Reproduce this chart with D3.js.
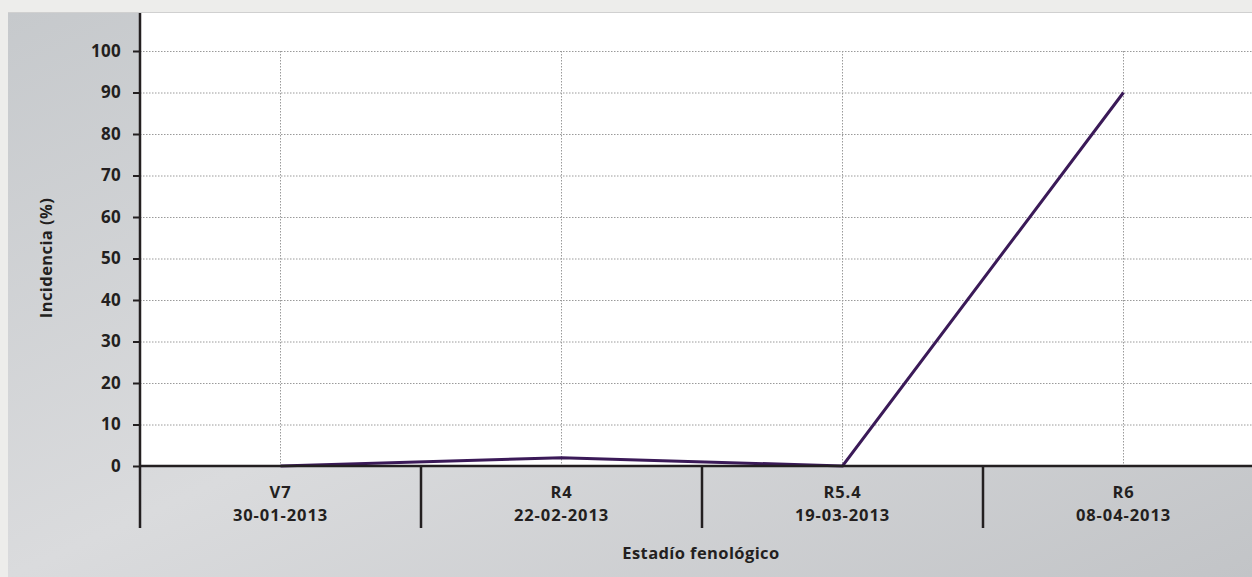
<!DOCTYPE html>
<html><head><meta charset="utf-8">
<script src="https://cdn.jsdelivr.net/npm/d3@7/dist/d3.min.js"></script>
<style>
html,body{margin:0;padding:0;background:#ededeb;}
svg{display:block;}
text{font-family:"Open Sans",sans-serif;font-weight:700;fill:#231f20;}
</style></head><body>
<svg id="c" width="1252" height="577"></svg>
<script>
const stages = ["V7","R4","R5.4","R6"];
const dates = ["30-01-2013","22-02-2013","19-03-2013","08-04-2013"];
const incidence = [0, 2, 0, 90];
const yTicks = [0,10,20,30,40,50,60,70,80,90,100];

(function(){
const W = 1252, H = 577;
const mLeft = 140, mTop = 13, mBottom = 466, mRight = 1264;
const svg = d3.select("#c");
const defs = svg.append("defs");
const g = defs.append("linearGradient").attr("id","bg").attr("x1","0").attr("y1","0").attr("x2","1").attr("y2","1");
g.append("stop").attr("offset","0").attr("stop-color","#c6c9cc");
g.append("stop").attr("offset","0.5").attr("stop-color","#dadbdd");
g.append("stop").attr("offset","1").attr("stop-color","#c2c4c7");

svg.append("rect").attr("x",8).attr("y",mTop).attr("width",W-8).attr("height",H-mTop).attr("fill","url(#bg)");
svg.append("line").attr("x1",8).attr("x2",W).attr("y1",mTop-0.5).attr("y2",mTop-0.5).attr("stroke","#d0d0d0").attr("stroke-width",1);
svg.append("rect").attr("x",mLeft).attr("y",mTop).attr("width",W-mLeft).attr("height",mBottom-mTop).attr("fill","#fff");

const x = d3.scaleBand().domain(stages).range([mLeft,mRight]).padding(0);
const y = d3.scaleLinear().domain([0,100]).range([mBottom,51]);

svg.append("g").selectAll("line").data(yTicks.filter(d=>d>0)).join("line")
  .attr("x1",mLeft).attr("x2",W).attr("y1",d=>y(d)+0.5).attr("y2",d=>y(d)+0.5)
  .attr("stroke","#9a9a9a").attr("stroke-width",1).attr("stroke-dasharray","1.5,1.5");
svg.append("g").selectAll("line").data(stages).join("line")
  .attr("x1",d=>x(d)+x.bandwidth()/2).attr("x2",d=>x(d)+x.bandwidth()/2)
  .attr("y1",y(100)).attr("y2",mBottom)
  .attr("stroke","#9a9a9a").attr("stroke-width",1).attr("stroke-dasharray","1.5,1.5");

const ya = d3.axisLeft(y).tickValues(yTicks).tickSize(7).tickPadding(12).tickFormat(d3.format("d"));
const yg = svg.append("g").attr("transform",`translate(${mLeft},0)`).call(ya);
yg.select(".domain").remove();
yg.selectAll(".tick line").attr("stroke","#231f20").attr("stroke-width",2);
yg.selectAll(".tick text").style("font-size","17px").style("font-family","'Open Sans',sans-serif").style("font-weight","700").style("letter-spacing","0.3px").attr("fill","#231f20");

const line = d3.line().x((d,i)=>x(stages[i])+x.bandwidth()/2).y(d=>y(d));
svg.append("path").datum(incidence).attr("d",line).attr("fill","none")
  .attr("stroke","#3b1a58").attr("stroke-width",3).attr("stroke-linejoin","miter");

svg.append("line").attr("x1",mLeft).attr("x2",W).attr("y1",mBottom).attr("y2",mBottom).attr("stroke","#231f20").attr("stroke-width",2.5);
svg.append("line").attr("x1",mLeft).attr("x2",mLeft).attr("y1",mTop).attr("y2",528).attr("stroke","#231f20").attr("stroke-width",2.5);
svg.append("g").selectAll("line").data(stages.slice(1)).join("line")
  .attr("x1",d=>x(d)).attr("x2",d=>x(d)).attr("y1",mBottom).attr("y2",528)
  .attr("stroke","#231f20").attr("stroke-width",2.5);

const cl = svg.append("g").selectAll("text").data(stages).join("text")
  .attr("text-anchor","middle").style("font-size","16.5px").style("letter-spacing","0.9px");
cl.append("tspan").attr("x",d=>x(d)+x.bandwidth()/2).attr("y",498).text(d=>d);
cl.append("tspan").attr("x",d=>x(d)+x.bandwidth()/2).attr("y",521).text((d,i)=>dates[i]);

svg.append("text").attr("x",701).attr("y",559).attr("text-anchor","middle").style("font-size","16.5px").style("letter-spacing","0.4px").text("Estadío fenológico");
svg.append("text").attr("transform","translate(52,258) rotate(-90)").attr("text-anchor","middle").style("font-size","16.5px").style("letter-spacing","0.4px").text("Incidencia (%)");
})();
</script>
</body></html>
